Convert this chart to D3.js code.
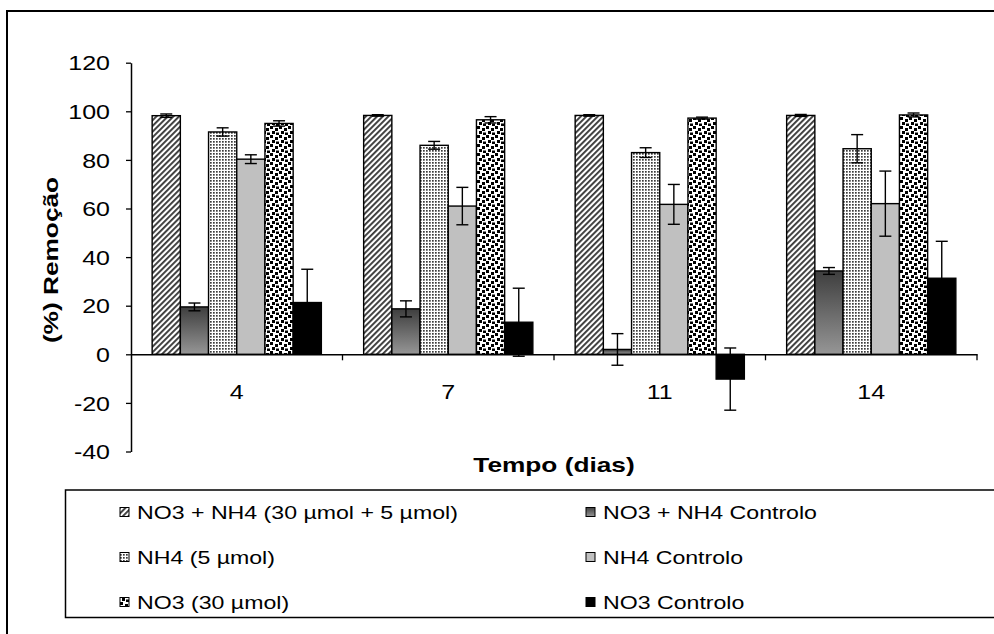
<!DOCTYPE html>
<html>
<head>
<meta charset="utf-8">
<script src="https://cdn.jsdelivr.net/npm/d3@7"></script>
<style>
  body { margin: 0; background: #fff; }
  svg { display: block; }
  text { font-family: "Liberation Sans", Arial, sans-serif; fill: #000; }
</style>
</head>
<body>
<svg id="chart" width="994" height="634"></svg>
<script>
// Sampling days
const categories = ["4", "7", "11", "14"];

// Series names (legend order, row by row)
const seriesNames = [
  "NO3 + NH4 (30 µmol + 5 µmol)",
  "NO3 + NH4 Controlo",
  "NH4 (5 µmol)",
  "NH4 Controlo",
  "NO3 (30 µmol)",
  "NO3 Controlo"
];

// Removal (%) per day, with error (±)
const mixValues      = [98.2, 98.3, 98.3, 98.3];
const mixErrors      = [0.7, 0.3, 0.3, 0.4];
const mixCtrlValues  = [19.5, 18.7, 2.0, 34.3];
const mixCtrlErrors  = [1.6, 3.3, 6.5, 1.4];
const nh4Values      = [91.5, 86.0, 83.0, 84.6];
const nh4Errors      = [1.7, 1.6, 2.0, 5.8];
const nh4CtrlValues  = [80.3, 61.0, 61.7, 62.0];
const nh4CtrlErrors  = [1.8, 7.7, 8.2, 13.4];
const no3Values      = [95.0, 96.5, 97.2, 98.5];
const no3Errors      = [1.1, 1.3, 0.4, 0.8];
const no3CtrlValues  = [21.3, 13.2, -10.2, 31.3];
const no3CtrlErrors  = [13.7, 14.0, 12.8, 15.2];

const yTicks = [-40, -20, 0, 20, 40, 60, 80, 100, 120];

const seriesValues = [mixValues, mixCtrlValues, nh4Values, nh4CtrlValues, no3Values, no3CtrlValues];
const seriesErrors = [mixErrors, mixCtrlErrors, nh4Errors, nh4CtrlErrors, no3Errors, no3CtrlErrors];
const seriesFills  = ["url(#hatch)", "url(#grad)", "url(#fineDots)", "#c0c0c0", "url(#confetti)", "#000"];

const svg = d3.select("#chart");
const SX = 1.25; // horizontal glyph stretch of the chart's lettering

// ---------- fills ----------
const defs = svg.append("defs");

const hatch = defs.append("pattern").attr("id", "hatch")
  .attr("patternUnits", "userSpaceOnUse").attr("width", 4).attr("height", 4)
  .attr("patternTransform", "rotate(45)");
hatch.append("rect").attr("width", 4).attr("height", 4).attr("fill", "#fff");
hatch.append("rect").attr("width", 1.9).attr("height", 4).attr("fill", "#3a3a3a");

const grad = defs.append("linearGradient").attr("id", "grad")
  .attr("x1", 0).attr("y1", 0).attr("x2", 0).attr("y2", 1);
grad.append("stop").attr("offset", "0%").attr("stop-color", "#3e3e3e");
grad.append("stop").attr("offset", "100%").attr("stop-color", "#969696");

const fine = defs.append("pattern").attr("id", "fineDots")
  .attr("patternUnits", "userSpaceOnUse").attr("width", 3).attr("height", 3);
fine.append("rect").attr("width", 3).attr("height", 3).attr("fill", "#fff");
fine.append("rect").attr("width", 1.7).attr("height", 1.7).attr("fill", "#3c3c3c");

const conf = defs.append("pattern").attr("id", "confetti")
  .attr("patternUnits", "userSpaceOnUse").attr("width", 9).attr("height", 9);
conf.append("rect").attr("width", 9).attr("height", 9).attr("fill", "#fff");
[[0, 0], [5, 2], [2, 5], [6, 6.5]].forEach(([px, py]) =>
  conf.append("rect").attr("x", px).attr("y", py).attr("width", 3).attr("height", 3).attr("fill", "#000"));

// ---------- frame ----------
svg.append("rect").attr("x", 7).attr("y", 11).attr("width", 1100).attr("height", 800)
  .attr("fill", "none").attr("stroke", "#000").attr("stroke-width", 2);

// ---------- scales ----------
const x0 = d3.scaleBand().domain(categories).range([131, 977]).paddingInner(0).paddingOuter(0);
const x1 = d3.scaleBand().domain(d3.range(6)).range([0, x0.bandwidth()]).paddingInner(0).paddingOuter(0.75);
const y = d3.scaleLinear().domain([-40, 120]).range([451.5, 62.7]);

// ---------- bars ----------
const rows = [];
categories.forEach((c, ci) => {
  seriesValues.forEach((vals, si) => {
    rows.push({ c, si, v: vals[ci], e: seriesErrors[si][ci] });
  });
});

const plot = svg.append("g");
plot.selectAll("rect.bar").data(rows).join("rect")
  .attr("class", "bar")
  .attr("x", d => x0(d.c) + x1(d.si))
  .attr("y", d => y(Math.max(0, d.v)))
  .attr("width", x1.bandwidth())
  .attr("height", d => Math.abs(y(d.v) - y(0)))
  .attr("fill", d => seriesFills[d.si])
  .attr("stroke", "#000")
  .attr("stroke-width", 1.4);

// ---------- error bars ----------
const eb = plot.selectAll("g.err").data(rows).join("g").attr("class", "err")
  .attr("transform", d => `translate(${x0(d.c) + x1(d.si) + x1.bandwidth() / 2},0)`)
  .attr("stroke", "#000").attr("stroke-width", 1.4);
eb.append("line").attr("x1", 0).attr("x2", 0)
  .attr("y1", d => y(d.v - d.e)).attr("y2", d => y(d.v + d.e));
eb.append("line").attr("x1", -6).attr("x2", 6)
  .attr("y1", d => y(d.v + d.e)).attr("y2", d => y(d.v + d.e));
eb.append("line").attr("x1", -6).attr("x2", 6)
  .attr("y1", d => y(d.v - d.e)).attr("y2", d => y(d.v - d.e));

// ---------- y axis ----------
const yAxis = svg.append("g").attr("transform", "translate(131,0)")
  .call(d3.axisLeft(y).tickValues(yTicks).tickSize(5).tickSizeOuter(0).tickFormat(d => String(d)));
yAxis.select(".domain").attr("stroke", "#000").attr("stroke-width", 1.5);
yAxis.selectAll(".tick line").attr("stroke", "#000").attr("stroke-width", 1.3);
yAxis.selectAll(".tick text")
  .attr("x", 0).attr("dy", 0).attr("y", 0)
  .attr("transform", `translate(-21,7.2) scale(${SX},1)`)
  .attr("text-anchor", "end")
  .style("font-size", "20px").attr("font-family", null);

// ---------- x axis (at zero) ----------
const y0 = y(0);
const xAxis = svg.append("g").attr("transform", `translate(0,${y0})`)
  .call(d3.axisBottom(x0).tickSize(0).tickSizeOuter(0));
xAxis.select(".domain").attr("stroke", "#000").attr("stroke-width", 1.5);
xAxis.selectAll(".tick text")
  .attr("y", 0).attr("dy", 0)
  .attr("transform", `translate(0,44.5) scale(${SX},1)`)
  .style("font-size", "20px").attr("font-family", null);
svg.append("g").selectAll("line").data(categories).join("line")
  .attr("x1", d => x0(d) + x0.bandwidth()).attr("x2", d => x0(d) + x0.bandwidth())
  .attr("y1", y0).attr("y2", y0 + 6)
  .attr("stroke", "#000").attr("stroke-width", 1.3);

// ---------- axis titles ----------
svg.append("text")
  .attr("transform", `translate(554,472) scale(${SX},1)`)
  .attr("text-anchor", "middle").style("font-size", "21px").style("font-weight", "bold")
  .text("Tempo (dias)");
svg.append("text")
  .attr("transform", `translate(58,260) rotate(-90) scale(${SX},1)`)
  .attr("text-anchor", "middle").style("font-size", "21px").style("font-weight", "bold")
  .text("(%) Remoção");

// ---------- legend ----------
svg.append("rect").attr("x", 65.5).attr("y", 490).attr("width", 1000).attr("height", 127.5)
  .attr("fill", "none").attr("stroke", "#000").attr("stroke-width", 1.5);

const colX = [120, 586];
const rowY = [512, 557, 602];
const leg = svg.append("g").selectAll("g").data(seriesNames).join("g")
  .attr("transform", (d, i) => `translate(${colX[i % 2]},${rowY[Math.floor(i / 2)]})`);
leg.append("rect").attr("x", 0).attr("y", -4.5).attr("width", 9).attr("height", 9)
  .attr("fill", (d, i) => seriesFills[i]).attr("stroke", "#000").attr("stroke-width", 1);
leg.append("text")
  .attr("transform", `translate(17,6.6) scale(${SX},1)`)
  .style("font-size", "18.5px")
  .text(d => d);
</script>
</body>
</html>
